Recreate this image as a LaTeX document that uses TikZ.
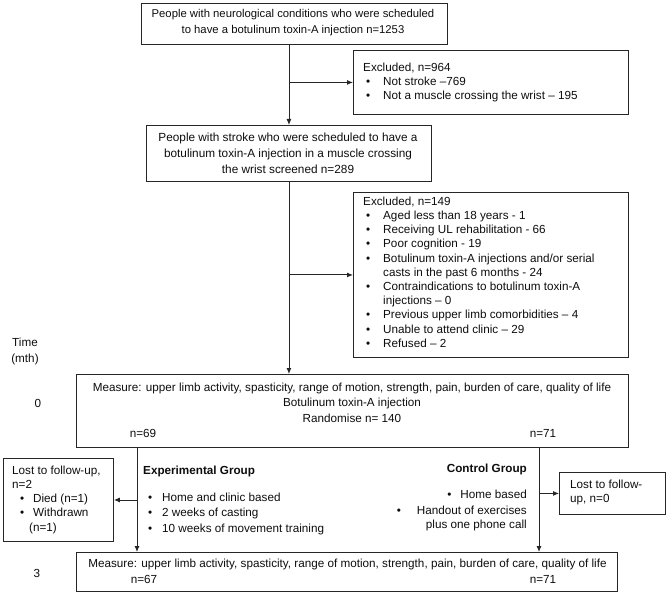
\documentclass[tikz,border=0pt]{standalone}
\usepackage{fontspec}
\setmainfont{Liberation Sans}
\usetikzlibrary{arrows.meta}
\newcommand\xbul{\makebox[20pt][l]{\hspace{3pt}\textbullet}}
\newcommand\xcont{\makebox[20pt]{}}
\begin{document}
\begin{tikzpicture}[x=1pt,y=-1pt,
  box/.style={draw=black!85, line width=0.9pt, inner sep=0pt, anchor=north west},
  txt/.style={inner sep=0pt, text=black!95, font=\fontsize{11.7}{14.2}\selectfont},
  mtxt/.style={inner sep=0pt, text=black!95, font=\fontsize{11.3}{16.5}\selectfont},
  arr/.style={line width=0.9pt, draw=black!85, -{Latex[length=6pt,width=5pt]}},
  ln/.style={line width=0.9pt, draw=black!85}]
\useasboundingbox (0,0) rectangle (666,593);
% boxes
\node[box, minimum width=306pt, minimum height=41pt] (b1) at (141,3) {};
\node[box, minimum width=275pt, minimum height=64pt] (e1) at (353,50) {};
\node[box, minimum width=285pt, minimum height=56pt] (b2) at (146,125) {};
\node[box, minimum width=275pt, minimum height=165pt] (e2) at (353,192) {};
\node[box, minimum width=552pt, minimum height=73pt] (b3) at (76,374) {};
\node[box, minimum width=110pt, minimum height=83pt] (l1) at (3,458) {};
\node[box, minimum width=106pt, minimum height=42pt] (l2) at (559,472) {};
\node[box, minimum width=541pt, minimum height=39pt] (b4) at (76,552) {};
\coordinate (bl) at (137,447);
\coordinate (br) at (539,447);
% texts
\node[mtxt, anchor=north, align=center] (t1) at (293,8.7)
  {People with neurological conditions who were scheduled\\to have a botulinum toxin-A injection n=1253};
\node[txt, anchor=north west, align=left] (te1) at (363,62.7)
  {Excluded, n=964\\ \xbul Not stroke –769\\ \xbul Not a muscle crossing the wrist – 195};
\node[mtxt, anchor=north, align=center, font=\fontsize{11.8}{16}\selectfont] (t2) at (288,132.5)
  {People with stroke who were scheduled to have a\\botulinum toxin-A injection in a muscle crossing\\the wrist screened n=289};
\node[txt, anchor=north west, align=left] (te2) at (363,196.7)
  {Excluded, n=149\\
   \xbul Aged less than 18 years - 1\\
   \xbul Receiving UL rehabilitation - 66\\
   \xbul Poor cognition - 19\\
   \xbul Botulinum toxin-A injections and/or serial\\
   \xcont casts in the past 6 months - 24\\
   \xbul Contraindications to botulinum toxin-A\\
   \xcont injections – 0\\
   \xbul Previous upper limb comorbidities – 4\\
   \xbul Unable to attend clinic – 29\\
   \xbul Refused – 2};
\node[txt, anchor=north, align=center, font=\fontsize{11.7}{16}\selectfont] (time) at (25,337.7) {Time\\(mth)};
\node[txt] (m0) at (38,403) {0};
\node[txt] (m3) at (37,573) {3};
\node[txt, anchor=north, align=center, font=\fontsize{11.7}{15.5}\selectfont] (t3) at (352,382.7)
  {Measure: upper limb activity, spasticity, range of motion, strength, pain, burden of care, quality of life\\Botulinum toxin-A injection\\Randomise n= 140};
\node[txt] (n69) at (143,433) {n=69};
\node[txt] (n71a) at (543,433) {n=71};
\node[txt, anchor=north west, align=left] (tl1) at (12,465.7)
  {Lost to follow-up,\\n=2\\
   \makebox[21pt][l]{\hspace{8pt}\textbullet}Died (n=1)\\
   \makebox[21pt][l]{\hspace{8pt}\textbullet}Withdrawn\\
   \makebox[17pt]{}(n=1)};
\node[txt, anchor=north west, align=left] (tl2) at (570,479.7) {Lost to follow-\\up, n=0};
\node[txt, anchor=north west, font=\fontsize{11.7}{14.2}\selectfont\bfseries] (eg) at (143,465.7) {Experimental Group};
\node[txt, anchor=north west, align=left, font=\fontsize{11.7}{15.5}\selectfont] (egl) at (148,492.7)
  {\makebox[14pt][l]{\textbullet}Home and clinic based\\
   \makebox[14pt][l]{\textbullet}2 weeks of casting\\
   \makebox[14pt][l]{\textbullet}10 weeks of movement training};
\node[txt, anchor=north east, font=\fontsize{11.7}{14.2}\selectfont\bfseries] (cg) at (527,463.7) {Control Group};
\node[txt, anchor=north east, align=right, font=\fontsize{11.7}{16}\selectfont] (cgl) at (527,489.7)
  {\textbullet\hspace{9pt}Home based\\
   \textbullet\hspace{16pt}Handout of exercises\\[-2pt]
   plus one phone call};
\node[txt, anchor=north] (t4) at (347.5,558.7)
  {Measure: upper limb activity, spasticity, range of motion, strength, pain, burden of care, quality of life};
\node[txt] (n67) at (144,579) {n=67};
\node[txt] (n71b) at (543,579) {n=71};
% connectors
\draw[arr] (b2.north |- b1.south) -- (b2.north);
\draw[arr] (b2.north |- e1.west) -- (e1.west);
\draw[arr] (b2.south) -- (b2.south |- b3.north);
\draw[arr] (b2.south |- e2.west) -- (e2.west);
\draw[arr] (bl) -- (bl |- b4.north);
\draw[arr] (bl |- l1.east) -- (l1.east);
\draw[arr] (br) -- (br |- b4.north);
\draw[arr] (br |- l2.west) -- (l2.west);
\end{tikzpicture}
\end{document}
